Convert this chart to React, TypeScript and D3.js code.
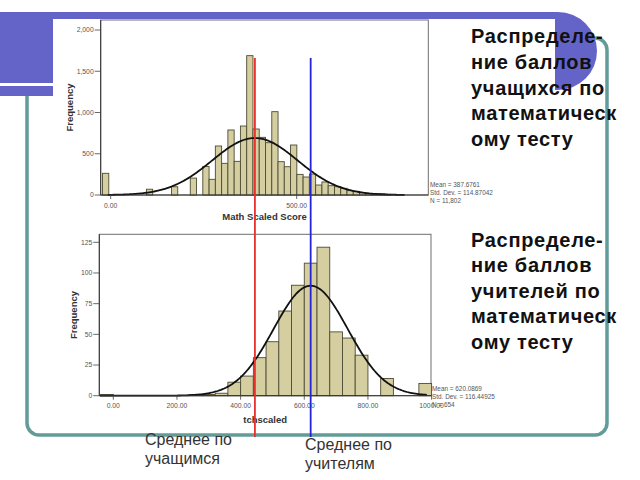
import React from "react";
import * as d3 from "d3";

// ---------- Data ----------
// Math Scaled Score (students) histogram
const mathBinWidth = 16.85;
const mathBinLower = [
  -22.0, 96.0, 163.4, 213.9, 247.6, 264.5, 281.3, 298.2, 315.0, 331.9, 348.7,
  365.6, 382.4, 399.3, 416.1, 433.0, 449.8, 466.6, 483.5, 500.4, 517.2, 534.1,
  550.9, 567.8, 584.6, 601.5, 618.3, 635.2, 652.0, 668.9, 685.7, 702.6, 719.4,
  736.3,
];
const mathCounts = [
  263, 70, 100, 205, 345, 190, 594, 384, 788, 408, 836, 1689, 800, 699, 634,
  1010, 404, 343, 606, 250, 218, 254, 121, 158, 113, 101, 81, 53, 44, 28, 18,
  12, 15, 8,
];
const mathMean = 387.6761;
const mathSD = 114.87042;
const mathN = 11802;
const mathYTicks = [0, 500, 1000, 1500, 2000];
const mathXTicks = [0, 500];
const mathStats = ["Mean = 387.6761", "Std. Dev. = 114.87042", "N = 11,802"];

// Teacher (tchscaled) histogram
const tchBinWidth = 40;
const tchBinLower = [
  -40, 240, 280, 320, 360, 400, 440, 480, 520, 560, 600, 640, 680, 720, 760,
  840, 960,
];
const tchCounts = [1, 1, 1, 2, 11, 16, 31, 44, 69, 90, 108, 121, 52, 47, 33, 14, 10];
const tchMean = 620.0869;
const tchSD = 116.44925;
const tchN = 654;
const tchYTicks = [0, 25, 50, 75, 100, 125];
const tchXTicks = [0, 200, 400, 600, 800, 1000];
const tchStats = ["Mean = 620.0869", "Std. Dev. = 116.44925", "N = 654"];

const titleStudents = ["Распределе-", "ние баллов", "учащихся по", "математическ", "ому тесту"];
const titleTeachers = ["Распределе-", "ние баллов", "учителей по", "математическ", "ому тесту"];
const labelStudents = ["Среднее по", "учащимся"];
const labelTeachers = ["Среднее по", "учителям"];

// ---------- Styles ----------
const PURPLE = "#6464c8";
const TEAL = "#629c98";
const BAR_FILL = "#d4cea0";
const BAR_STROKE = "#4d4b35";
const FONT = "'Liberation Sans', Arial, sans-serif";

function normalCurve(
  x: d3.ScaleLinear<number, number>,
  y: d3.ScaleLinear<number, number>,
  mean: number,
  sd: number,
  n: number,
  bw: number,
  from: number,
  to: number
) {
  const pts: [number, number][] = d3.range(from, to + 0.001, (to - from) / 200).map((v) => {
    const z = (v - mean) / sd;
    const val = (n * bw * Math.exp(-0.5 * z * z)) / (sd * Math.sqrt(2 * Math.PI));
    return [x(v), y(val)];
  });
  return d3.line()(pts) || "";
}

type HistProps = {
  x: d3.ScaleLinear<number, number>;
  y: d3.ScaleLinear<number, number>;
  frame: { l: number; r: number; t: number; b: number };
  lower: number[];
  counts: number[];
  bw: number;
  mean: number;
  sd: number;
  n: number;
  yTicks: number[];
  xTicks: number[];
  yFmt: (v: number) => string;
  xLabel: string;
  xLabelY: number;
  freqX: number;
  stats: string[];
  statsX: number;
  statsY: number;
  curveFrom: number;
  curveTo: number;
};

function Histogram(p: HistProps) {
  const { x, y, frame } = p;
  return (
    <g>
      <rect
        x={frame.l}
        y={frame.t}
        width={frame.r - frame.l}
        height={frame.b - frame.t}
        fill="none"
        stroke="#6e6e6e"
        strokeWidth={1}
      />
      {p.lower.map((lo, i) => (
        <rect
          key={i}
          x={x(lo)}
          y={y(p.counts[i])}
          width={x(lo + p.bw) - x(lo)}
          height={y(0) - y(p.counts[i])}
          fill={BAR_FILL}
          stroke={BAR_STROKE}
          strokeWidth={0.9}
        />
      ))}
      <path
        d={normalCurve(x, y, p.mean, p.sd, p.n, p.bw, p.curveFrom, p.curveTo)}
        fill="none"
        stroke="#111"
        strokeWidth={1.8}
      />
      {/* axes */}
      <line x1={frame.l} x2={frame.l} y1={frame.t} y2={frame.b} stroke="#333" strokeWidth={1} />
      <line x1={frame.l} x2={frame.r} y1={frame.b} y2={frame.b} stroke="#333" strokeWidth={1} />
      {p.yTicks.map((t) => (
        <g key={"y" + t}>
          <line x1={frame.l - 6} x2={frame.l} y1={y(t)} y2={y(t)} stroke="#444" strokeWidth={0.8} />
          <text
            x={frame.l - 7}
            y={y(t) + 2.3}
            textAnchor="end"
            fontSize={6.8}
            fill="#555"
            fontFamily={FONT}
          >
            {p.yFmt(t)}
          </text>
        </g>
      ))}
      {p.xTicks.map((t) => (
        <g key={"x" + t}>
          <line x1={x(t)} x2={x(t)} y1={frame.b} y2={frame.b + 4} stroke="#444" strokeWidth={0.8} />
          <text
            x={x(t)}
            y={frame.b + 12.5}
            textAnchor="middle"
            fontSize={6.8}
            fill="#555"
            fontFamily={FONT}
          >
            {d3.format(".2f")(t)}
          </text>
        </g>
      ))}
      <text
        x={(frame.l + frame.r) / 2}
        y={p.xLabelY}
        textAnchor="middle"
        fontSize={9.5}
        fontWeight="bold"
        fill="#333"
        fontFamily={FONT}
      >
        {p.xLabel}
      </text>
      <text
        transform={`translate(${p.freqX},${(frame.t + frame.b) / 2}) rotate(-90)`}
        textAnchor="middle"
        fontSize={9.5}
        fontWeight="bold"
        fill="#333"
        fontFamily={FONT}
      >
        Frequency
      </text>
      {p.stats.map((s, i) => (
        <text
          key={s}
          x={p.statsX}
          y={p.statsY + i * 8}
          fontSize={6.4}
          fill="#555"
          fontFamily={FONT}
        >
          {s}
        </text>
      ))}
    </g>
  );
}

export default function App() {
  const xTop = d3.scaleLinear().domain([0, 500]).range([110.7, 296.7]);
  const yTop = d3.scaleLinear().domain([0, 2000]).range([195, 30]);
  const xBot = d3.scaleLinear().domain([0, 1000]).range([113.3, 431.6]);
  const yBot = d3.scaleLinear().domain([0, 125]).range([395.7, 242.3]);

  const redX = xTop(mathMean);
  const blueX = xBot(tchMean);

  return (
    <svg
      width={640}
      height={480}
      viewBox="0 0 640 480"
      style={{ position: "absolute", left: 0, top: 0, background: "#fff" }}
    >
      <rect x={0} y={0} width={640} height={480} fill="#fff" />
      {/* teal frame */}
      <rect x={27} y={38} width={580} height={397} rx={12} fill="none" stroke={TEAL} strokeWidth={3.5} />
      {/* purple band */}
      <rect x={-60} y={12} width={657} height={78} rx={39} fill={PURPLE} />
      <rect x={0} y={12} width={60} height={78} fill={PURPLE} />
      <rect x={0} y={86} width={53} height={10} fill={PURPLE} />
      <rect x={0} y={83} width={53} height={3} fill="#fff" />
      {/* white chart image */}
      <rect x={53} y={19} width={502} height={413} fill="#fff" />

      <Histogram
        x={xTop}
        y={yTop}
        frame={{ l: 100.7, r: 428.3, t: 20, b: 195 }}
        lower={mathBinLower}
        counts={mathCounts}
        bw={mathBinWidth}
        mean={mathMean}
        sd={mathSD}
        n={mathN}
        yTicks={mathYTicks}
        xTicks={mathXTicks}
        yFmt={d3.format(",")}
        xLabel="Math Scaled Score"
        xLabelY={220}
        freqX={73}
        stats={mathStats}
        statsX={430}
        statsY={187}
        curveFrom={-8}
        curveTo={790}
      />
      <Histogram
        x={xBot}
        y={yBot}
        frame={{ l: 99.3, r: 431, t: 234.3, b: 395.7 }}
        lower={tchBinLower}
        counts={tchCounts}
        bw={tchBinWidth}
        mean={tchMean}
        sd={tchSD}
        n={tchN}
        yTicks={tchYTicks}
        xTicks={tchXTicks}
        yFmt={d3.format("d")}
        xLabel="tchscaled"
        xLabelY={423}
        freqX={77}
        stats={tchStats}
        statsX={432}
        statsY={391}
        curveFrom={-42}
        curveTo={985}
      />

      {/* mean lines */}
      <line x1={redX} x2={redX} y1={58} y2={437} stroke="#e8302c" strokeWidth={1.8} />
      <line x1={blueX} x2={blueX} y1={58} y2={437} stroke="#2424d6" strokeWidth={1.8} />

      {/* right-side titles */}
      {titleStudents.map((s, i) => (
        <text
          key={"s" + i}
          x={471}
          y={43 + i * 25.8}
          fontSize={20}
          letterSpacing={0.7}
          fontWeight="bold"
          fill="#111"
          fontFamily={FONT}
        >
          {s}
        </text>
      ))}
      {titleTeachers.map((s, i) => (
        <text
          key={"t" + i}
          x={471}
          y={247 + i * 25.4}
          fontSize={20}
          letterSpacing={0.7}
          fontWeight="bold"
          fill="#111"
          fontFamily={FONT}
        >
          {s}
        </text>
      ))}

      {/* bottom labels */}
      {labelStudents.map((s, i) => (
        <text key={"ls" + i} x={145} y={445 + i * 19} fontSize={16} fill="#333" fontFamily={FONT}>
          {s}
        </text>
      ))}
      {labelTeachers.map((s, i) => (
        <text key={"lt" + i} x={305} y={450 + i * 19} fontSize={16} fill="#333" fontFamily={FONT}>
          {s}
        </text>
      ))}
    </svg>
  );
}
